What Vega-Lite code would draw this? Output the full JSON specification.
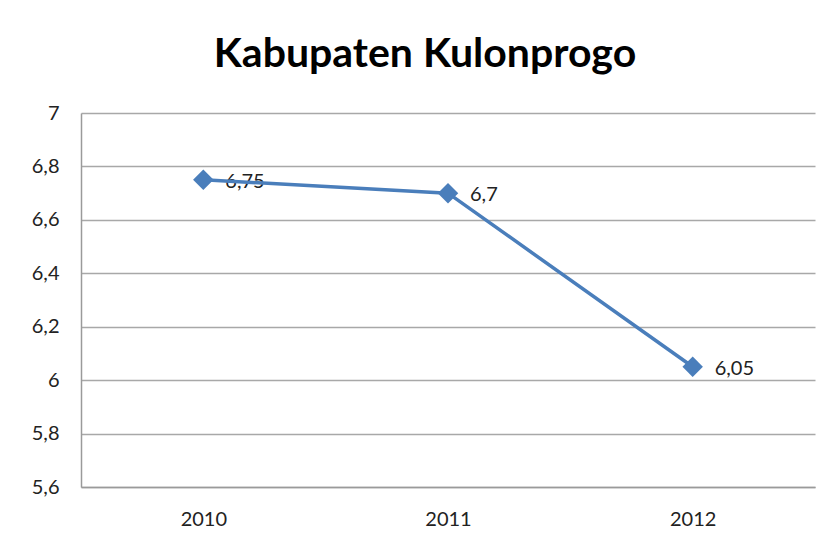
{
  "$schema": "https://vega.github.io/schema/vega-lite/v6.json",
  "width": 734,
  "height": 374,
  "autosize": {"type": "none"},
  "padding": {"left": 81, "top": 113, "right": 15, "bottom": 59},
  "background": "white",
  "title": {
    "text": "Kabupaten Kulonprogo",
    "font": "Lato",
    "fontSize": 41,
    "fontWeight": "bold",
    "color": "black",
    "anchor": "middle",
    "baseline": "alphabetic",
    "offset": -5,
    "dx": -23
  },
  "data": {
    "values": [
      {"year": "2010", "value": 6.75},
      {"year": "2011", "value": 6.7},
      {"year": "2012", "value": 6.05}
    ]
  },
  "encoding": {
    "x": {
      "field": "year",
      "type": "ordinal",
      "scale": {"type": "point", "padding": 0.5},
      "axis": {
        "title": null,
        "labelAngle": 0,
        "labelFont": "Lato",
        "labelFontSize": 20,
        "labelColor": "#222",
        "labelPadding": 22,
        "ticks": false,
        "domainColor": "#9a9a9a",
        "domainWidth": 1.5,
        "grid": false
      }
    },
    "y": {
      "field": "value",
      "type": "quantitative",
      "scale": {"domain": [5.6, 7], "nice": false, "zero": false},
      "axis": {
        "title": null,
        "values": [5.6, 5.8, 6, 6.2, 6.4, 6.6, 6.8, 7],
        "format": "",
        "labelFont": "Lato",
        "labelFontSize": 20,
        "labelColor": "#222",
        "labelPadding": 22,
        "ticks": false,
        "domainColor": "#9a9a9a",
        "domainWidth": 1.5,
        "grid": true,
        "gridColor": "#a8a8a8",
        "gridWidth": 1.5
      }
    }
  },
  "layer": [
    {
      "mark": {"type": "text", "align": "left", "baseline": "middle", "dx": 22, "dy": 2, "font": "Lato", "fontSize": 20, "color": "#222"},
      "encoding": {
        "text": {"field": "value", "type": "quantitative", "format": ""}
      }
    },
    {
      "mark": {"type": "line", "color": "#4a7ebb", "strokeWidth": 3.5}
    },
    {
      "mark": {"type": "point", "shape": "diamond", "filled": true, "opacity": 1, "size": 420, "color": "#4a7ebb"}
    }
  ],
  "config": {
    "view": {"stroke": null},
    "locale": {"number": {"decimal": ",", "thousands": ".", "grouping": [3], "currency": ["", ""]}}
  }
}
